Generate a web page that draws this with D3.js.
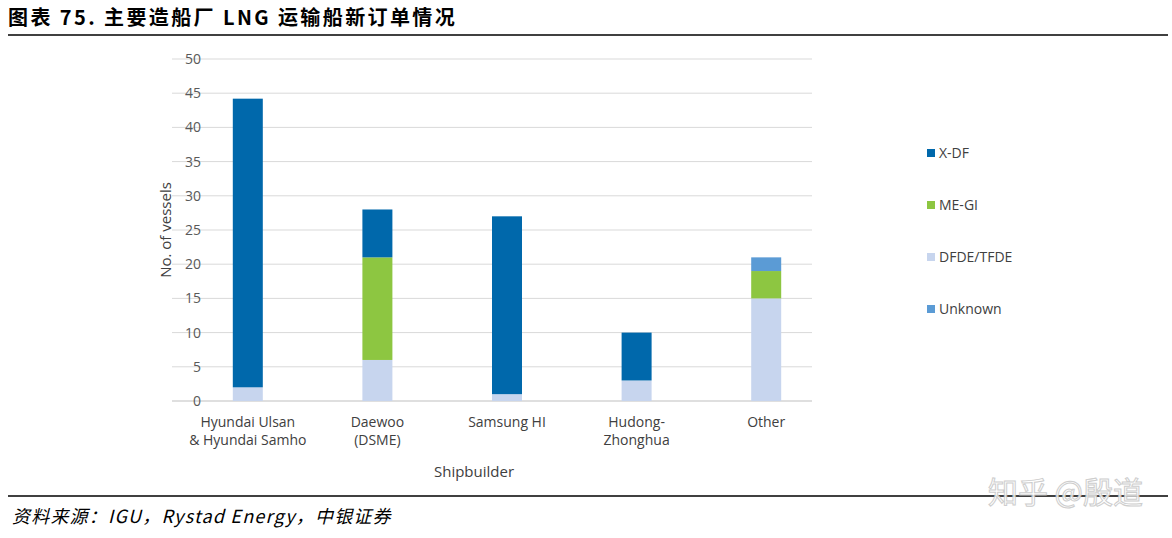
<!DOCTYPE html>
<html><head><meta charset="utf-8">
<script src="https://cdn.jsdelivr.net/npm/d3@7"></script>
<style>body{margin:0;background:#fff}svg{display:block}</style>
</head><body><svg id="chart"></svg>
<script>
let w = 1172
let h = 538

let categories = [["Hyundai Ulsan", "& Hyundai Samho"], ["Daewoo", "(DSME)"], ["Samsung HI"], ["Hudong-", "Zhonghua"], ["Other"]]
let seriesNames = ["DFDE/TFDE", "ME-GI", "X-DF", "Unknown"]
let dfde = [2, 6, 1, 3, 15]
let megi = [0, 15, 0, 0, 4]
let xdf = [42.2, 7, 26, 7, 0]
let unknown = [0, 0, 0, 0, 2]
let yTicks = [0, 5, 10, 15, 20, 25, 30, 35, 40, 45, 50]
let legendOrder = ["X-DF", "ME-GI", "DFDE/TFDE", "Unknown"]
let colors = {"X-DF": "#0068ab", "ME-GI": "#8dc641", "DFDE/TFDE": "#c7d5ee", "Unknown": "#5b9bd5"}

let svg = d3.select('#chart').attr('width', w).attr('height', h)

let rows = categories.map((c, i) => ({key: i, "DFDE/TFDE": dfde[i], "ME-GI": megi[i], "X-DF": xdf[i], "Unknown": unknown[i]}))
let stacked = d3.stack().keys(seriesNames)(rows)

let x = d3.scaleBand().domain(d3.range(categories.length)).range([183, 831])
let y = d3.scaleLinear().domain([0, 50]).range([401, 59])
let barW = 30

// title + rules
svg.append('text').attr('x', 8).attr('y', 25)
  .attr('font-family', 'Noto Sans CJK SC').attr('font-weight', 'bold').attr('font-size', 20)
  .attr('letter-spacing', 2.4)
  .text('图表 75. 主要造船厂 LNG 运输船新订单情况')
svg.append('line').attr('x1', 8).attr('x2', 1168).attr('y1', 35).attr('y2', 35).attr('stroke', '#000').attr('stroke-width', 1.5)
svg.append('line').attr('x1', 8).attr('x2', 1168).attr('y1', 496).attr('y2', 496).attr('stroke', '#000').attr('stroke-width', 1.5)
svg.append('text').attr('x', 12).attr('y', 523)
  .attr('font-family', 'Noto Sans CJK SC').attr('font-style', 'italic').attr('font-size', 18)
  .attr('letter-spacing', 1.2)
  .text('资料来源：IGU，Rystad Energy，中银证券')

// grid
svg.append('g').selectAll('line').data(yTicks).join('line')
  .attr('x1', 172).attr('x2', 812).attr('y1', d => y(d)).attr('y2', d => y(d))
  .attr('stroke', d => d === 0 ? '#bfbfbf' : '#d9d9d9')

svg.append('g').selectAll('text').data(yTicks).join('text')
  .attr('x', 201).attr('y', d => y(d) + 5).attr('text-anchor', 'end')
  .attr('font-family', 'Open Sans').attr('font-size', 14).attr('fill', '#595959')
  .text(d => d)

// bars
svg.append('g').selectAll('g').data(stacked).join('g')
  .attr('fill', d => colors[d.key])
  .selectAll('rect').data(d => d).join('rect')
  .attr('x', (d, i) => x(i) + x.bandwidth() / 2 - barW / 2)
  .attr('width', barW)
  .attr('y', d => y(d[1]))
  .attr('height', d => y(d[0]) - y(d[1]))

// category labels
let cl = svg.append('g').selectAll('text').data(categories).join('text')
  .attr('text-anchor', 'middle').attr('font-family', 'Open Sans').attr('font-size', 14).attr('fill', '#404040')
  .attr('x', (d, i) => x(i) + x.bandwidth() / 2).attr('y', 427)
cl.selectAll('tspan').data(d => d).join('tspan')
  .attr('x', function() { return this.parentNode.getAttribute('x') })
  .attr('dy', (d, i) => i === 0 ? 0 : 18).text(d => d)

svg.append('text').attr('x', 474).attr('y', 477).attr('text-anchor', 'middle')
  .attr('font-family', 'Open Sans').attr('font-size', 15).attr('fill', '#404040').text('Shipbuilder')
svg.append('text').attr('transform', 'translate(171,230) rotate(-90)').attr('text-anchor', 'middle')
  .attr('font-family', 'Open Sans').attr('font-size', 15).attr('fill', '#404040').text('No. of vessels')

// legend
let lg = svg.append('g').selectAll('g').data(legendOrder).join('g')
  .attr('transform', (d, i) => 'translate(927,' + (149 + 52 * i) + ')')
lg.append('rect').attr('width', 8).attr('height', 8).attr('fill', d => colors[d])
lg.append('text').attr('x', 12).attr('y', 9).attr('font-family', 'Open Sans').attr('font-size', 14)
  .attr('fill', '#404040').text(d => d)

// watermark
svg.append('text').attr('x', 1143).attr('y', 503).attr('text-anchor', 'end')
  .attr('font-family', 'Noto Sans CJK SC').attr('font-size', 30).attr('fill', '#fff')
  .attr('stroke', '#c8c8c8').attr('stroke-width', 1).attr('opacity', 0.9).text('知乎 @殷道')
</script></body></html>
